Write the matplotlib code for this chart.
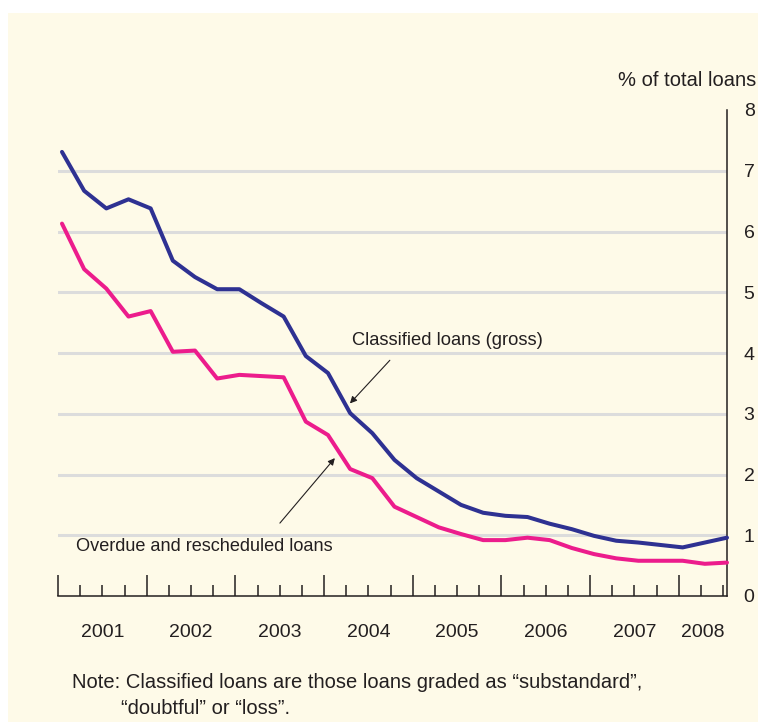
import numpy as np
import matplotlib
matplotlib.use('Agg')
import matplotlib.pyplot as plt
from matplotlib.patches import Rectangle
from matplotlib.ticker import FixedLocator

plt.rcParams['font.family'] = ['Liberation Sans', 'DejaVu Sans']

# quarterly data, 2001Q1 .. 2008Q3 (31 points)
classified = [7.31, 6.67, 6.38, 6.53, 6.38, 5.52, 5.25, 5.05, 5.05, 4.82,
              4.60, 3.95, 3.67, 3.01, 2.68, 2.24, 1.94, 1.72, 1.50, 1.37,
              1.32, 1.30, 1.19, 1.10, 0.99, 0.91, 0.88, 0.84, 0.80, 0.88,
              0.96]
overdue = [6.13, 5.38, 5.06, 4.60, 4.69, 4.02, 4.04, 3.58, 3.64, 3.62,
           3.60, 2.87, 2.65, 2.09, 1.94, 1.47, 1.30, 1.13, 1.02, 0.92,
           0.92, 0.96, 0.92, 0.79, 0.69, 0.62, 0.58, 0.58, 0.58, 0.53,
           0.55]
years = ['2001', '2002', '2003', '2004', '2005', '2006', '2007', '2008']
yticks = [0, 1, 2, 3, 4, 5, 6, 7, 8]

BG = '#FEFAE8'
TXT = '#231F20'
BLUE = '#2E3192'
PINK = '#EC1C8C'

W, H = 758, 722
fig = plt.figure(figsize=(W / 100, H / 100), dpi=100)
fig.patch.set_facecolor('white')
fig.patches.append(Rectangle((8 / W, 0), 1 - 8 / W, 1 - 13 / H,
                             transform=fig.transFigure, facecolor=BG,
                             edgecolor='none', zorder=-10))

ax = fig.add_axes([58 / W, 1 - 596 / H, (727 - 58) / W, (596 - 110) / H])
ax.set_facecolor(BG)

x = np.arange(len(classified))
off = 0.18
ax.set_xlim(-off, len(classified) - 1)
ax.set_ylim(0, 8)

for v in yticks[1:-1]:
    ax.axhline(v, color='#DCDCDC', lw=2.2, zorder=1)

ax.plot(x, classified, color=BLUE, lw=2.9, zorder=3, clip_on=False,
        solid_joinstyle='round', solid_capstyle='round')
ax.plot(x, overdue, color=PINK, lw=2.9, zorder=3, clip_on=False,
        solid_joinstyle='round', solid_capstyle='round')

# spines
for s in ['top', 'left']:
    ax.spines[s].set_visible(False)
for s in ['right', 'bottom']:
    ax.spines[s].set_color(TXT)
    ax.spines[s].set_linewidth(1.1)

# y axis on the right
ax.yaxis.tick_right()
ax.set_yticks(yticks)
ax.set_yticklabels([str(v) for v in yticks])
ax.tick_params(axis='y', length=0, pad=12, labelsize=14, labelcolor=TXT)

# x ticks: quarters, major each year
n = len(classified)
major = np.arange(0, n, 4) - off
minor = np.arange(0, n) - off
ax.xaxis.set_major_locator(FixedLocator(major))
ax.xaxis.set_minor_locator(FixedLocator(minor))
ax.set_xticklabels([])
ax.tick_params(axis='x', which='major', direction='in', length=15, width=1.1, color=TXT)
ax.tick_params(axis='x', which='minor', direction='in', length=8, width=1.1, color=TXT)

# year labels centred between year ticks
edges = list(major) + [n - 1]
for i, yr in enumerate(years):
    xc = (edges[i] + edges[i + 1]) / 2
    ax.text(xc, -0.6, yr, ha='center', va='center', fontsize=14, color=TXT,
            transform=ax.transData, clip_on=False)

# unit label
fig.text(756 / W, 1 - 80 / H, '% of total loans', ha='right', va='center',
         fontsize=14.5, color=TXT)

# annotations
arrow = dict(arrowstyle='-|>', color=TXT, lw=0.8, mutation_scale=10,
             shrinkA=0, shrinkB=0)
ax.text(13.1, 4.2, 'Classified loans (gross)', fontsize=13.2, color=TXT,
        ha='left', va='center')
ax.annotate('', xy=(12.99, 3.17), xytext=(14.79, 3.88), arrowprops=arrow)
ax.annotate('', xy=(12.31, 2.27), xytext=(9.83, 1.2), arrowprops=arrow)
ax.text(0.63, 0.81, 'Overdue and rescheduled loans', fontsize=13.1, color=TXT,
        ha='left', va='center')

# note
fig.text(72 / W, 1 - 683 / H,
         'Note: Classified loans are those loans graded as \u201csubstandard\u201d,',
         ha='left', va='center', fontsize=14.5, color=TXT)
fig.text(121 / W, 1 - 709 / H, '\u201cdoubtful\u201d or \u201closs\u201d.',
         ha='left', va='center', fontsize=14.5, color=TXT)

fig.savefig('out.png', dpi=100, facecolor=fig.get_facecolor())
